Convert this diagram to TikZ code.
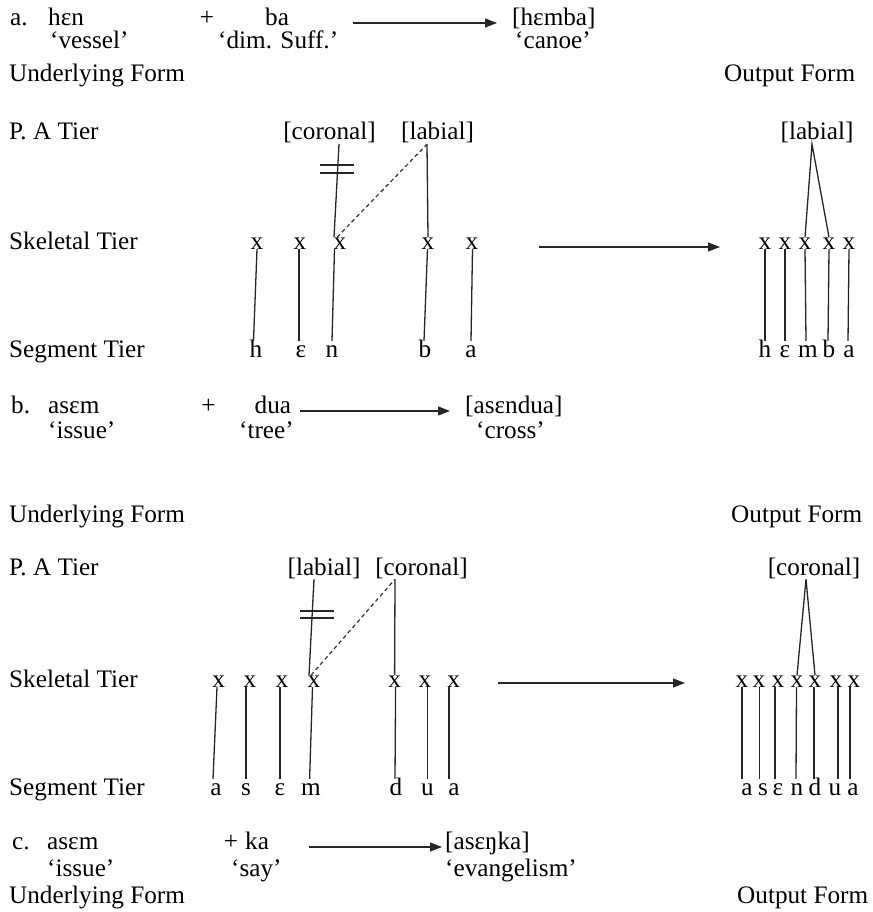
\documentclass[tikz,border=0pt]{standalone}
\usepackage{fontspec}
\setmainfont{Liberation Serif}
\usetikzlibrary{arrows.meta}
\begin{document}
\begin{tikzpicture}[x=1pt,y=-1pt,
  font=\fontsize{25.2}{30}\selectfont,
  txt/.style={anchor=base west, inner sep=0pt},
  ctr/.style={anchor=base, inner sep=0pt},
  xn/.style={anchor=base, inner sep=0pt, text depth=0pt},
  sg/.style={anchor=base, inner sep=0pt, text height=16pt, text depth=0pt},
  fl/.style={anchor=base, inner sep=0pt, text depth=4pt},
  assoc/.style={line width=1.3pt, draw=black!85},
  delink/.style={line width=1.2pt, draw=black!85},
  spread/.style={line width=1.2pt, draw=black!80, dash pattern=on 4pt off 3pt},
  derive/.style={line width=1.2pt, draw=black!85, -{Triangle[length=12pt,width=9pt]}}]
\useasboundingbox (0,0) rectangle (872,912);

% ---------------- (a) ----------------
\node[txt] (alab) at (10,26) {a.};
\node[txt] (ahen) at (48,26) {hɛn};
\node[ctr] (aplus) at (207,26) {+};
\node[txt] (aba) at (265,26) {ba};
\node[txt] (aout) at (512,26) {[hɛmba]};
\node[txt] (agl1) at (50,49) {‘vessel’};
\node[txt] (agl2) at (218,49) {‘dim. Suff.’};
\node[txt] (agl3) at (515,49) {‘canoe’};
\coordinate (aarrs) at (353,23);
\coordinate (aarre) at (497,23);
\draw[derive] (aarrs) -- (aarre);
\node[txt] (auf) at (9,82) {Underlying Form};
\node[txt] (aof) at (724,82) {Output Form};

\node[txt] (apa) at (9,140) {P. A Tier};
\node[txt] (ask) at (9,249) {Skeletal Tier};
\node[txt] (asg) at (9,357) {Segment Tier};

\node[fl] (acor) at (329.5,140) {[coronal]};
\node[fl] (alabf) at (437.5,140) {[labial]};
\foreach \n/\p in {1/257,2/300,3/340,4/428,5/472}
  \node[xn] (ax\n) at (\p,249) {x};
\node[sg] (as1) at (256,357) {h};
\node[sg] (as2) at (301,357) {ɛ};
\node[sg] (as3) at (332,357) {n};
\node[sg] (as4) at (425,357) {b};
\node[sg] (as5) at (471,357) {a};
\draw[assoc] (ax1.south) -- ([xshift=-2.5pt]as1.north);
\draw[assoc] ([xshift=-1pt]ax2.south) -- ([xshift=-2pt]as2.north);
\draw[assoc] ([xshift=-5.5pt]ax3.south) -- (as3.north);
\draw[assoc] ([xshift=-0.5pt]ax4.south) -- ([xshift=-1pt]as4.north);
\draw[assoc] ([xshift=0.5pt]ax5.south) -- (as5.north);
\draw[assoc] ([xshift=9.5pt]acor.south) -- ([xshift=-6pt]ax3.north);
\draw[assoc] ([xshift=-10.5pt]alabf.south) -- (ax4.north);
\draw[spread] ([xshift=-3pt]ax3.north) -- ([xshift=-10.5pt]alabf.south);
\draw[delink] (320,165) -- (354,165);
\draw[delink] (320,173) -- (354,173);

\coordinate (aars) at (539,247);
\coordinate (aare) at (720,247);
\draw[derive] (aars) -- (aare);

\node[fl] (aolab) at (817,140) {[labial]};
\foreach \n/\p in {1/765,2/785,3/805,4/829,5/849}
  \node[xn] (aox\n) at (\p,249) {x};
\node[sg] (aos1) at (765,357) {h};
\node[sg] (aos2) at (785,357) {ɛ};
\node[sg] (aos3) at (808,357) {m};
\node[sg] (aos4) at (829,357) {b};
\node[sg] (aos5) at (849,357) {a};
\draw[assoc] (aox1.south) -- (aos1.north);
\draw[assoc] (aox2.south) -- (aos2.north);
\draw[assoc] (aox3.south) -- ([xshift=-2pt]aos3.north);
\draw[assoc] (aox4.south) -- ([xshift=-1pt]aos4.north);
\draw[assoc] (aox5.south) -- ([xshift=-1pt]aos5.north);
\draw[assoc] (aox3.north) -- ([xshift=-5pt]aolab.south) -- (aox4.north);

% ---------------- (b) ----------------
\node[txt] (blab) at (11,413) {b.};
\node[txt] (basem) at (48,413) {asɛm};
\node[ctr] (bplus) at (208.5,413) {+};
\node[txt] (bdua) at (254.5,413) {dua};
\node[txt] (bout) at (465,413) {[asɛndua]};
\coordinate (barrs) at (300,411);
\coordinate (barre) at (450,411);
\draw[derive] (barrs) -- (barre);
\node[txt] (bgl1) at (48,438) {‘issue’};
\node[txt] (bgl2) at (239,438) {‘tree’};
\node[txt] (bgl3) at (476,438) {‘cross’};
\node[txt] (buf) at (9,522) {Underlying Form};
\node[txt] (bof) at (731,522) {Output Form};

\node[txt] (bpa) at (9,575) {P. A Tier};
\node[txt] (bsk) at (9,687) {Skeletal Tier};
\node[txt] (bsg) at (9,795) {Segment Tier};

\node[fl] (blabf) at (324,575) {[labial]};
\node[fl] (bcor) at (421.5,575) {[coronal]};
\foreach \n/\p in {1/218.6,2/250,3/282,4/314,5/394.6,6/425,7/453.6}
  \node[xn] (bx\n) at (\p,687) {x};
\node[sg] (bs1) at (216,795) {a};
\node[sg] (bs2) at (246,795) {s};
\node[sg] (bs3) at (280,795) {ɛ};
\node[sg] (bs4) at (311,795) {m};
\node[sg] (bs5) at (396,795) {d};
\node[sg] (bs6) at (427.5,795) {u};
\node[sg] (bs7) at (454,795) {a};
\draw[assoc] ([xshift=-1.6pt]bx1.south) -- ([xshift=-3pt]bs1.north);
\draw[assoc] ([xshift=-4pt]bx2.south) -- (bs2.north);
\draw[assoc] ([xshift=-2pt]bx3.south) -- (bs3.north);
\draw[assoc] ([xshift=-1.5pt]bx4.south) -- ([xshift=-1.4pt]bs4.north);
\draw[assoc] ([xshift=1pt]bx5.south) -- ([xshift=-1pt]bs5.north);
\draw[assoc] ([xshift=2.5pt]bx6.south) -- (bs6.north);
\draw[assoc] ([xshift=-4.6pt]bx7.south) -- ([xshift=-5pt]bs7.north);
\draw[assoc] ([xshift=-10pt]blabf.south) -- ([xshift=-5pt]bx4.north);
\draw[assoc] ([xshift=-26.5pt]bcor.south) -- (bx5.north);
\draw[spread] ([xshift=-3pt]bx4.north) -- ([xshift=-26.5pt]bcor.south);
\draw[delink] (300,611) -- (334,611);
\draw[delink] (300,618) -- (334,618);

\coordinate (bars) at (498,683);
\coordinate (bare) at (685,683);
\draw[derive] (bars) -- (bare);

\node[fl] (bocor) at (814,575) {[coronal]};
\foreach \n/\p in {1/742,2/759,3/778,4/797,5/815,6/836,7/854}
  \node[xn] (box\n) at (\p,687) {x};
\node[sg] (bos1) at (747,795) {a};
\node[sg] (bos2) at (763,795) {s};
\node[sg] (bos3) at (778,795) {ɛ};
\node[sg] (bos4) at (797,795) {n};
\node[sg] (bos5) at (815,795) {d};
\node[sg] (bos6) at (835,795) {u};
\node[sg] (bos7) at (853,795) {a};
\draw[assoc] (box1.south) -- ([xshift=-5pt]bos1.north);
\draw[assoc] ([xshift=0.5pt]box2.south) -- ([xshift=-3.5pt]bos2.north);
\draw[assoc] ([xshift=-3pt]box3.south) -- ([xshift=-3pt]bos3.north);
\draw[assoc] ([xshift=-0.5pt]box4.south) -- ([xshift=-1pt]bos4.north);
\draw[assoc] ([xshift=-1pt]box5.south) -- ([xshift=-1pt]bos5.north);
\draw[assoc] ([xshift=2pt]box6.south) -- ([xshift=3pt]bos6.north);
\draw[assoc] ([xshift=-4pt]box7.south) -- ([xshift=-3pt]bos7.north);
\draw[assoc] (box4.north) -- ([xshift=-8pt]bocor.south) -- (box5.north);

% ---------------- (c) ----------------
\node[txt] (clab) at (12,849) {c.};
\node[txt] (casem) at (47,849) {asɛm};
\node[ctr] (cplus) at (231,849) {+};
\node[txt] (cka) at (245,849) {ka};
\node[txt] (cout) at (445,849) {[asɛŋka]};
\coordinate (carrs) at (309,847);
\coordinate (carre) at (442,847);
\draw[derive] (carrs) -- (carre);
\node[txt] (cgl1) at (47,876) {‘issue’};
\node[txt] (cgl2) at (231,876) {‘say’};
\node[txt] (cgl3) at (445,876) {‘evangelism’};
\node[txt] (cuf) at (9,903) {Underlying Form};
\node[txt] (cof) at (737,903) {Output Form};
\end{tikzpicture}
\end{document}
